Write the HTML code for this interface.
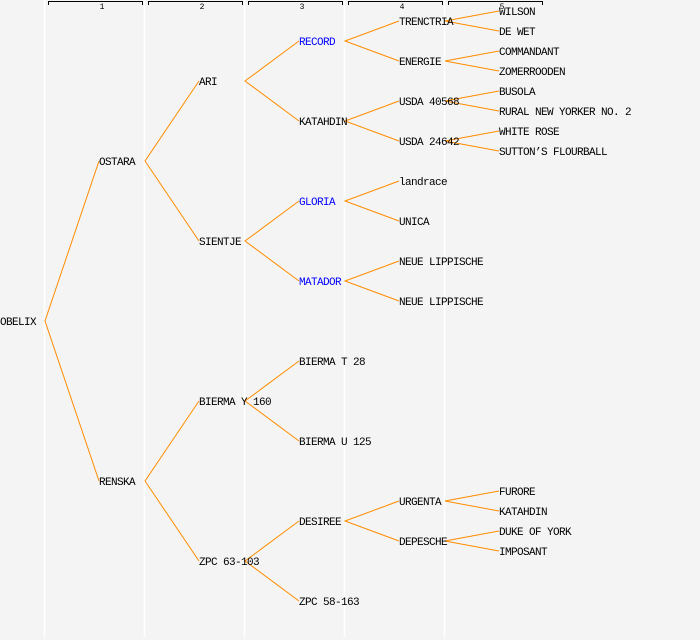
<!DOCTYPE html>
<html><head><meta charset="utf-8"><style>
html,body{margin:0;padding:0;background:#f4f4f4;}
svg{display:block;}
text{font-family:"Liberation Mono",monospace;font-size:11px;letter-spacing:-0.6px;fill:#000;}
.b{fill:#0000ff;}
</style></head><body>
<svg width="700" height="640" viewBox="0 0 700 640" xmlns="http://www.w3.org/2000/svg">
<rect width="700" height="640" fill="#f4f4f4"/>
<g stroke="#ffffff" stroke-width="1.5">
<line x1="44.5" y1="0" x2="44.5" y2="637"/>
<line x1="144.5" y1="0" x2="144.5" y2="637"/>
<line x1="244.5" y1="0" x2="244.5" y2="637"/>
<line x1="344.5" y1="0" x2="344.5" y2="637"/>
<line x1="444.5" y1="0" x2="444.5" y2="637"/>
</g>
<g stroke="#000" stroke-width="1" fill="none">
<path d="M48.5,5V1.5H142.5V5"/>
<path d="M148.5,5V1.5H242.5V5"/>
<path d="M248.5,5V1.5H342.5V5"/>
<path d="M348.5,5V1.5H442.5V5"/>
<path d="M448.5,5V1.5H542.5V5"/>
</g>
<g text-anchor="middle">
<text x="102" y="9" style="font-size:8px;letter-spacing:0">1</text>
<text x="202" y="9" style="font-size:8px;letter-spacing:0">2</text>
<text x="302" y="9" style="font-size:8px;letter-spacing:0">3</text>
<text x="402" y="9" style="font-size:8px;letter-spacing:0">4</text>
<text x="502" y="9" style="font-size:8px;letter-spacing:0">5</text>
</g>
<g stroke="#ff8c00" stroke-width="1" fill="none">
<path d="M99,161L45,321L99,481"/>
<path d="M199,81L145,161L199,241"/>
<path d="M199,401L145,481L199,561"/>
<path d="M299,41L245,81L299,121"/>
<path d="M299,201L245,241L299,281"/>
<path d="M299,361L245,401L299,441"/>
<path d="M299,521L245,561L299,601"/>
<path d="M399,21L345,41L399,61"/>
<path d="M399,101L345,121L399,141"/>
<path d="M399,181L345,201L399,221"/>
<path d="M399,261L345,281L399,301"/>
<path d="M399,501L345,521L399,541"/>
<path d="M499,11L445,21L499,31"/>
<path d="M499,51L445,61L499,71"/>
<path d="M499,91L445,101L499,111"/>
<path d="M499,131L445,141L499,151"/>
<path d="M499,491L445,501L499,511"/>
<path d="M499,531L445,541L499,551"/>
</g>
<text x="0" y="325">OBELIX</text>
<text x="99" y="165">OSTARA</text>
<text x="99" y="485">RENSKA</text>
<text x="199" y="85">ARI</text>
<text x="199" y="245">SIENTJE</text>
<text x="199" y="405">BIERMA Y 160</text>
<text x="199" y="565">ZPC 63-103</text>
<text x="299" y="45" class="b">RECORD</text>
<text x="299" y="125">KATAHDIN</text>
<text x="299" y="205" class="b">GLORIA</text>
<text x="299" y="285" class="b">MATADOR</text>
<text x="299" y="365">BIERMA T 28</text>
<text x="299" y="445">BIERMA U 125</text>
<text x="299" y="525">DESIREE</text>
<text x="299" y="605">ZPC 58-163</text>
<text x="399" y="25">TRENCTRIA</text>
<text x="399" y="65">ENERGIE</text>
<text x="399" y="105">USDA 40568</text>
<text x="399" y="145">USDA 24642</text>
<text x="399" y="185">landrace</text>
<text x="399" y="225">UNICA</text>
<text x="399" y="265">NEUE LIPPISCHE</text>
<text x="399" y="305">NEUE LIPPISCHE</text>
<text x="399" y="505">URGENTA</text>
<text x="399" y="545">DEPESCHE</text>
<text x="499" y="15">WILSON</text>
<text x="499" y="35">DE WET</text>
<text x="499" y="55">COMMANDANT</text>
<text x="499" y="75">ZOMERROODEN</text>
<text x="499" y="95">BUSOLA</text>
<text x="499" y="115">RURAL NEW YORKER NO. 2</text>
<text x="499" y="135">WHITE ROSE</text>
<text x="499" y="155">SUTTON’S FLOURBALL</text>
<text x="499" y="495">FURORE</text>
<text x="499" y="515">KATAHDIN</text>
<text x="499" y="535">DUKE OF YORK</text>
<text x="499" y="555">IMPOSANT</text>
</svg>
</body></html>
